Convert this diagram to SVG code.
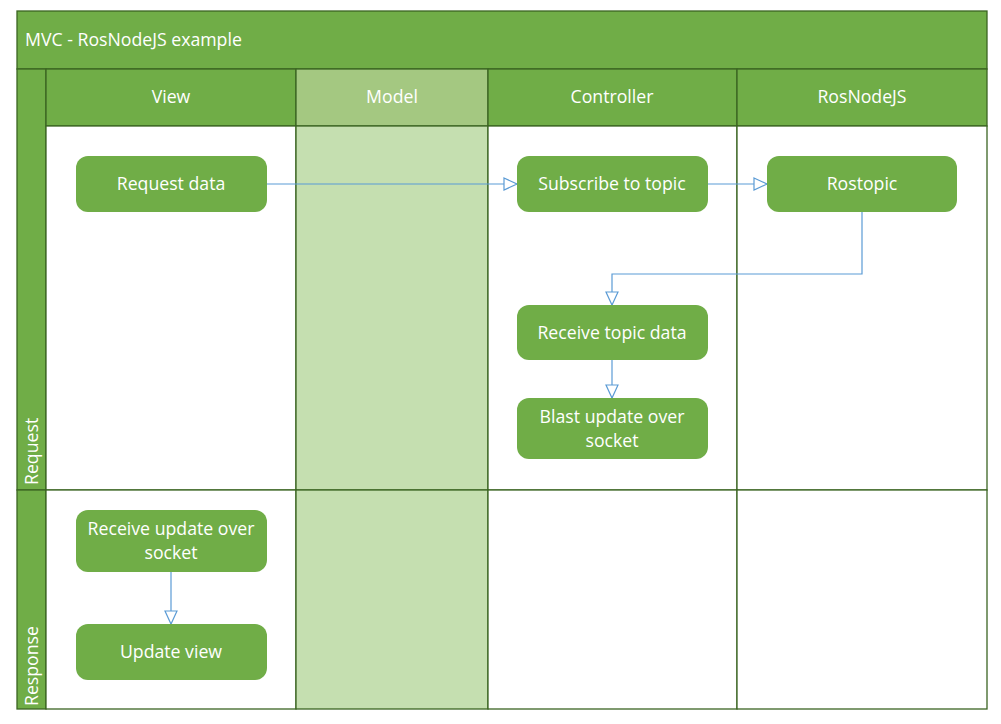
<svg xmlns="http://www.w3.org/2000/svg" width="1001" height="724" viewBox="0 0 1001 724">
<style>
text{font-family:"Open Sans","Noto Sans","Liberation Sans",sans-serif;fill:#ffffff;font-size:17.7px}
.c{text-anchor:middle}
.band{fill:#70ad47;stroke:#3b6522;stroke-width:1.3}
.cell{fill:#ffffff;stroke:#3b6522;stroke-width:1.3}
.node{fill:#70ad47}
.con{fill:none;stroke:#5b9bd5;stroke-width:1.2}
</style>
<defs>
<marker id="ar" markerWidth="16" markerHeight="14" refX="14" refY="7" orient="auto" markerUnits="userSpaceOnUse">
<path d="M1,1 L14,7 L1,13 Z" fill="#ffffff" stroke="#5b9bd5" stroke-width="1.2"/>
</marker>
</defs>
<rect x="0" y="0" width="1001" height="724" fill="#ffffff"/>
<g id="pool">
<rect class="band" x="17" y="11" width="970" height="58"/>
<text x="25" y="46">MVC - RosNodeJS example</text>
<rect class="band" x="17" y="69" width="29" height="421"/>
<rect class="band" x="17" y="490" width="29" height="219"/>
<text transform="translate(38,485) rotate(-90)">Request</text>
<text transform="translate(38,706) rotate(-90)">Response</text>
<rect class="band" x="46" y="69" width="250" height="57"/>
<rect x="296" y="69" width="192" height="57" fill="#a4c881" stroke="#3b6522" stroke-width="1.3"/>
<rect class="band" x="488" y="69" width="249" height="57"/>
<rect class="band" x="737" y="69" width="250" height="57"/>
<text class="c" x="171" y="103">View</text>
<text class="c" x="392" y="103">Model</text>
<text class="c" x="612" y="103">Controller</text>
<text class="c" x="862" y="103">RosNodeJS</text>
<rect class="cell" x="46" y="126" width="250" height="364"/>
<rect x="296" y="126" width="192" height="364" fill="#c5dfb0" stroke="#3b6522" stroke-width="1.3"/>
<rect class="cell" x="488" y="126" width="249" height="364"/>
<rect class="cell" x="737" y="126" width="250" height="364"/>
<rect class="cell" x="46" y="490" width="250" height="219"/>
<rect x="296" y="490" width="192" height="219" fill="#c5dfb0" stroke="#3b6522" stroke-width="1.3"/>
<rect class="cell" x="488" y="490" width="249" height="219"/>
<rect class="cell" x="737" y="490" width="250" height="219"/>
</g>
<g id="connectors">
<path class="con" d="M267,184 L517,184" marker-end="url(#ar)"/>
<path class="con" d="M708,184 L767,184" marker-end="url(#ar)"/>
<path class="con" d="M862,212 L862,274 L612,274 L612,305" marker-end="url(#ar)"/>
<path class="con" d="M612,360 L612,398" marker-end="url(#ar)"/>
<path class="con" d="M171,572 L171,624" marker-end="url(#ar)"/>
</g>
<g id="n-request">
<rect class="node" x="76" y="156" width="191" height="56" rx="12"/>
<text class="c" x="171" y="190">Request data</text>
</g>
<g id="n-subscribe">
<rect class="node" x="517" y="156" width="191" height="56" rx="12"/>
<text class="c" x="612" y="190">Subscribe to topic</text>
</g>
<g id="n-rostopic">
<rect class="node" x="767" y="156" width="190" height="56" rx="12"/>
<text class="c" x="862" y="190">Rostopic</text>
</g>
<g id="n-receive-topic">
<rect class="node" x="517" y="305" width="191" height="55" rx="12"/>
<text class="c" x="612" y="339">Receive topic data</text>
</g>
<g id="n-blast">
<rect class="node" x="517" y="398" width="191" height="61" rx="12"/>
<text class="c" x="612" y="423">Blast update over</text>
<text class="c" x="612" y="447">socket</text>
</g>
<g id="n-receive-update">
<rect class="node" x="76" y="510" width="191" height="62" rx="12"/>
<text class="c" x="171" y="535">Receive update over</text>
<text class="c" x="171" y="559">socket</text>
</g>
<g id="n-update-view">
<rect class="node" x="76" y="624" width="191" height="56" rx="12"/>
<text class="c" x="171" y="658">Update view</text>
</g>
</svg>
